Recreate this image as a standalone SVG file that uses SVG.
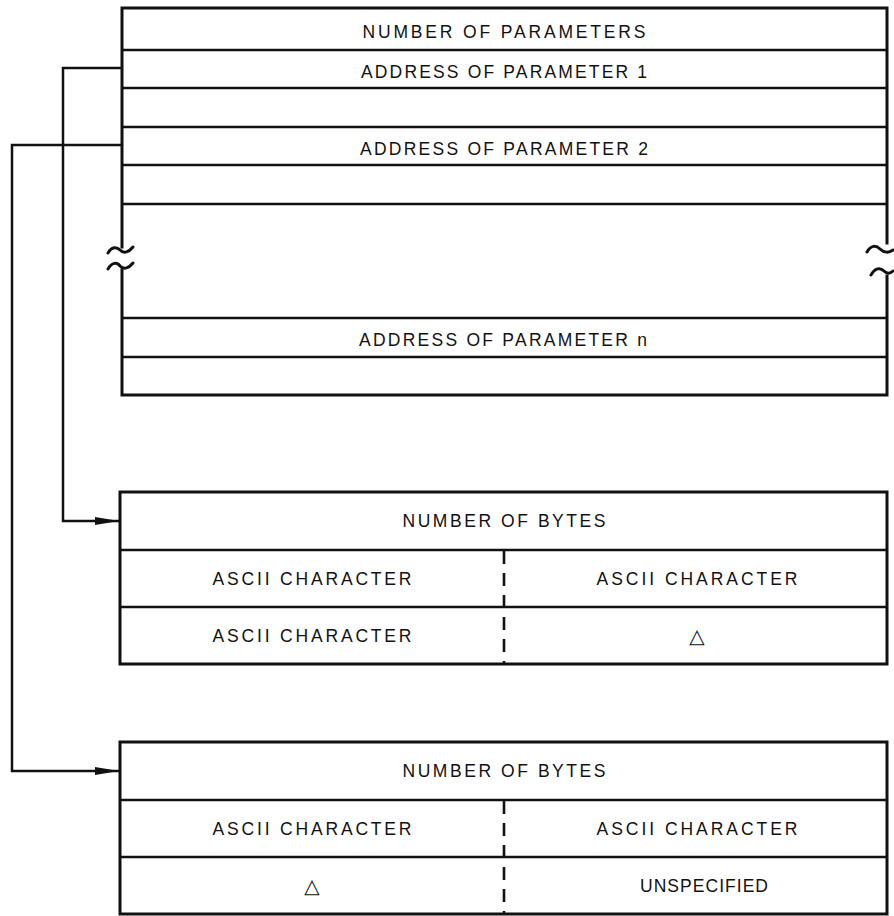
<svg xmlns="http://www.w3.org/2000/svg" width="894" height="916" viewBox="0 0 894 916">
<style>
.bd{fill:none;stroke:#111;stroke-width:3;stroke-linecap:square}
.rw{fill:none;stroke:#111;stroke-width:2.6}
.dv{fill:none;stroke:#111;stroke-width:2.6;stroke-dasharray:13 9}
.cn{fill:none;stroke:#111;stroke-width:2.5;stroke-linejoin:miter}
.sq{fill:none;stroke:#111;stroke-width:3;stroke-linecap:round}
text{font-family:"Liberation Sans",Arial,sans-serif;font-size:17.5px;fill:#111;text-anchor:middle}
.tri{font-family:"DejaVu Sans",sans-serif;font-size:20px}
</style>
<defs>
<marker id="ah" viewBox="0 0 24 10" refX="24" refY="5" markerWidth="24" markerHeight="10" markerUnits="userSpaceOnUse" orient="auto">
<path d="M0,1 L24,5 L0,9 Z" fill="#111"/>
</marker>
</defs>
<g id="param-list">
<path class="bd" d="M122,247 V8 H887 V243"/>
<path class="bd" d="M122,270 V395 H887 V276"/>
<path class="sq" d="M108,253 C112,246 117,247 120,250 C124,254 129,252 133,247"/>
<path class="sq" d="M108,269 C112,262 117,262 120,266 C124,270 129,268 133,263"/>
<path class="sq" d="M867,252 C871,245 876,245 880,249 C884,253 889,253 893,250"/>
<path class="sq" d="M871,275 C875,268 880,267 884,271 C888,275 891,273 893,271"/>
<path class="rw" d="M122,50 H887 M122,88 H887 M122,127 H887 M122,165 H887 M122,204 H887 M122,318 H887 M122,357 H887"/>
<text x="504" y="38" textLength="283" lengthAdjust="spacing">NUMBER OF PARAMETERS</text>
<text x="504" y="78" textLength="286" lengthAdjust="spacing">ADDRESS OF PARAMETER 1</text>
<text x="504" y="155" textLength="288" lengthAdjust="spacing">ADDRESS OF PARAMETER 2</text>
<text x="503" y="346" textLength="288" lengthAdjust="spacing">ADDRESS OF PARAMETER n</text>
</g>
<g id="param1-block">
<rect class="bd" x="120" y="492" width="767" height="172"/>
<path class="rw" d="M120,550 H887 M120,607 H887"/>
<path class="dv" d="M504,551 V664"/>
<text x="504" y="527" textLength="203" lengthAdjust="spacing">NUMBER OF BYTES</text>
<text x="312" y="585" textLength="199" lengthAdjust="spacing">ASCII CHARACTER</text>
<text x="697" y="585" textLength="201" lengthAdjust="spacing">ASCII CHARACTER</text>
<text x="312" y="642" textLength="199" lengthAdjust="spacing">ASCII CHARACTER</text>
<text x="697" y="643" class="tri">△</text>
</g>
<g id="param2-block">
<rect class="bd" x="120" y="742" width="767" height="172"/>
<path class="rw" d="M120,800 H887 M120,857 H887"/>
<path class="dv" d="M504,801 V914"/>
<text x="504" y="777" textLength="203" lengthAdjust="spacing">NUMBER OF BYTES</text>
<text x="312" y="835" textLength="199" lengthAdjust="spacing">ASCII CHARACTER</text>
<text x="697" y="835" textLength="201" lengthAdjust="spacing">ASCII CHARACTER</text>
<text x="312" y="893" class="tri">△</text>
<text x="704" y="892" textLength="128" lengthAdjust="spacing">UNSPECIFIED</text>
</g>
<g id="connectors">
<path class="cn" d="M122,68 H63 V521 H119" marker-end="url(#ah)"/>
<path class="cn" d="M122,145 H12 V771 H119" marker-end="url(#ah)"/>
</g>
</svg>
